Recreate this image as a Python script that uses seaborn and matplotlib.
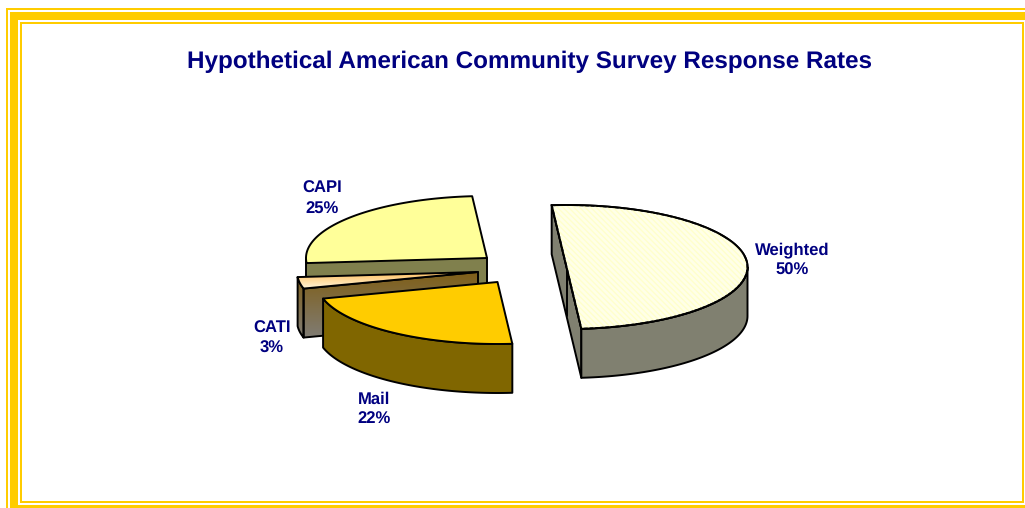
import numpy as np
import matplotlib
matplotlib.use("Agg")
import matplotlib.pyplot as plt
from matplotlib.patches import Polygon, Rectangle
from matplotlib.colors import LinearSegmentedColormap
import seaborn as sns

# Survey response shares
categories = ["Weighted", "Mail", "CATI", "CAPI"]
shares = [50, 22, 3, 25]
label_texts = ["Weighted\n50%", "Mail\n22%", "CATI\n3%", "CAPI\n25%"]

title_text = "Hypothetical American Community Survey Response Rates"
top_colors = ["#FFFFE8", "#FFCC00", "#FFE0A8", "#FFFF99"]
side_colors = ["#808070", "#806600", "#806030", "#80804D"]

sns.set_theme(style="white")
plt.rcParams["font.family"] = ["Liberation Sans", "DejaVu Sans"]
plt.rcParams["text.hinting"] = "none"

NAVY = "#000080"
GOLD = "#FFCC00"
W, H = 1025, 508
RX, RY, DEPTH = 181.0, 62.0, 49.0
START_ANGLE = 94.7

# Pivot of each exploded slice on the canvas
pivots = {"Weighted": (566.5, 267), "Mail": (497.5, 282), "CATI": (478, 272), "CAPI": (487, 258)}
label_xy = {"Weighted": (792, 260), "Mail": (374, 409.5), "CATI": (272, 338.5), "CAPI": (322, 199)}

fig = plt.figure(figsize=(W / 100, H / 100), dpi=100, facecolor="white")
ax = fig.add_axes([0, 0, 1, 1])
ax.set_xlim(0, W)
ax.set_ylim(H, 0)
ax.axis("off")

# Gold frame: thin outer rule, thick band, thin inner rule, cropped by the canvas
frame_bars = [
    (6, 8, W - 6, 2), (6, 8, 2, H - 8),
    (10, 12, W - 10, 8), (10, 12, 8, H - 12), (10, 505, W - 10, 3),
    (20, 22, 1004, 2), (20, 22, 2, 481), (20, 501, 1004, 2), (1022, 22, 2, 481),
]
for x, y, w, h in frame_bars:
    ax.add_patch(Rectangle((x, y), w, h, fc=GOLD, ec="none", zorder=1))

ax.text(530, 62, title_text, color=NAVY, fontsize=17.45, fontweight="bold", ha="center", va="center", zorder=6)


def arc(px, py, a0, a1, n=90):
    t = np.radians(np.linspace(a0, a1, n))
    return np.column_stack([px + RX * np.cos(t), py - RY * np.sin(t)])


def face(points, fc, z):
    ax.add_patch(Polygon(points, closed=True, fc=fc, ec="black", lw=1.4, joinstyle="round", zorder=z))


def gradient_face(points, c0, c1, z, extent_points=None):
    ref = points if extent_points is None else extent_points
    cmap = LinearSegmentedColormap.from_list("shade", [c0, c1])
    xmin, ymin = ref.min(axis=0)
    xmax, ymax = ref.max(axis=0)
    im = ax.imshow(np.linspace(0, 1, 64).reshape(-1, 1), cmap=cmap, aspect="auto",
                   extent=(xmin, xmax, ymax, ymin), zorder=z)
    im.set_clip_path(Polygon(points, closed=True, transform=ax.transData))
    ax.add_patch(Polygon(points, closed=True, fill=False, ec="black", lw=1.4, joinstyle="round", zorder=z + 0.01))
    ax.set_xlim(0, W)
    ax.set_ylim(H, 0)


# Slice spans run clockwise from the start angle
ends = START_ANGLE - np.cumsum(shares) * 3.6
starts = np.concatenate([[START_ANGLE], ends[:-1]])
spans = dict(zip(categories, zip(starts, ends)))


def draw_slice(name, z):
    i = categories.index(name)
    px, py = pivots[name]
    a0, a1 = spans[name]
    rim = arc(px, py, a0, a1)
    pivot = np.array([[px, py]])
    down = np.array([0, DEPTH])
    top = np.vstack([pivot, rim])
    if name == "Weighted":
        # Cut face along the diameter, with the pivot edge, then the curved wall
        cut = np.vstack([rim[0], pivot, rim[-1]])
        face(np.vstack([cut, (cut + down)[::-1]]), side_colors[i], z)
        ax.plot([px, px], [py, py + DEPTH], color="black", lw=1.4, zorder=z + 0.02)
        wall = arc(px, py, a1, 0)
        face(np.vstack([wall, wall[::-1] + down]), side_colors[i], z)
        face(top, top_colors[i], z + 0.1)
        ax.add_patch(Polygon(top, closed=True, fill=False, ec="#FFFFCC", lw=0, hatch="\\\\\\\\\\\\", zorder=z + 0.11))
        ax.add_patch(Polygon(top, closed=True, fill=False, ec="black", lw=1.4, zorder=z + 0.12))
    elif name == "Mail":
        face(np.vstack([rim, rim[::-1] + down]), side_colors[i], z)
        face(top, top_colors[i], z + 0.1)
    elif name == "CATI":
        # Both visible walls share one vertical shade; the top has its own
        edge = np.vstack([rim[0], pivot])
        front = np.vstack([edge, (edge + down)[::-1]])
        wall = np.vstack([rim, rim[::-1] + down])
        span_pts = np.vstack([front, wall])
        gradient_face(front, "#7F5F18", "#807C74", z, span_pts)
        gradient_face(wall, "#7F5F18", "#807C74", z, span_pts)
        gradient_face(top, "#FFC060", "#FFF6DC", z + 0.1)
    elif name == "CAPI":
        edge = np.vstack([arc(px, py, -180, -180.01, 2)[0], pivot])
        face(np.vstack([edge, (edge + down)[::-1]]), side_colors[i], z)
        face(top, top_colors[i], z + 0.1)


for z, name in enumerate(["CAPI", "CATI", "Mail", "Weighted"], start=2):
    draw_slice(name, z)

for name, txt in zip(categories, label_texts):
    x, y = label_xy[name]
    ax.text(x, y, txt, color=NAVY, fontsize=12, fontweight="bold", ha="center", va="center",
            linespacing=1.39, zorder=6)

fig.savefig("out.png", dpi=100, facecolor="white")
